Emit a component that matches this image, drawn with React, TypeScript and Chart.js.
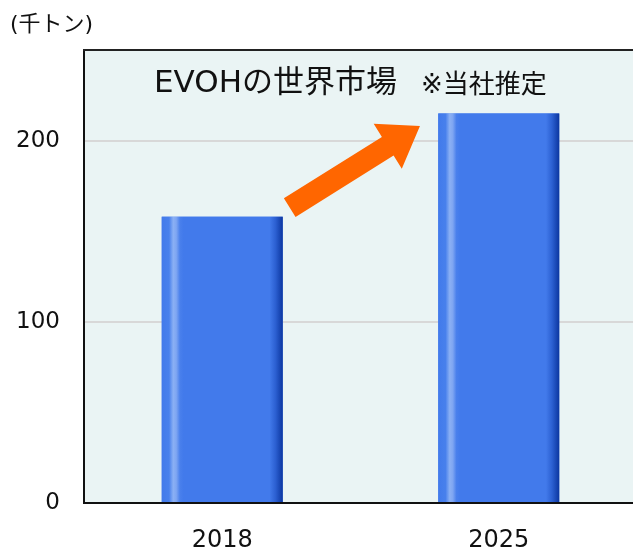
import React, { useEffect, useRef } from "react";
import { Chart, registerables } from "chart.js";

Chart.register(...registerables);

const categories = ["2018", "2025"];
const marketValues = [158, 215];
const yTicks = [0, 100, 200];
const yMax = 250;
const titleText = "EVOHの世界市場";
const noteText = "※当社推定";
const unitText = "(千トン)";
// arrow in data coordinates: [category index, value]
const arrowFrom = [0.244, 163];
const arrowTo = [0.715, 208];

const FONT = '"DejaVu Sans", "Noto Sans CJK JP", sans-serif';

const decorPlugin = {
  id: "decor",
  beforeDraw(chart: any) {
    const { ctx, chartArea: a } = chart;
    ctx.save();
    ctx.fillStyle = "#EAF4F4";
    ctx.fillRect(a.left, a.top, a.right - a.left, a.bottom - a.top);
    ctx.restore();
  },
  afterDatasetsDraw(chart: any) {
    const { ctx, chartArea: a } = chart;
    const meta = chart.getDatasetMeta(0);
    ctx.save();
    meta.data.forEach((el: any) => {
      const { x, y, base, width } = el.getProps(["x", "y", "base", "width"], true);
      const left = x - width / 2;
      const g = ctx.createLinearGradient(left, 0, left + width, 0);
      g.addColorStop(0, "#427AEB");
      g.addColorStop(0.06, "#4880EC");
      g.addColorStop(0.095, "#8BB0F4");
      g.addColorStop(0.12, "#7FA6F2");
      g.addColorStop(0.15, "#4A80EC");
      g.addColorStop(0.18, "#427AEB");
      g.addColorStop(0.89, "#427AEB");
      g.addColorStop(0.94, "#2C60D2");
      g.addColorStop(1, "#0C36A0");
      ctx.fillStyle = g;
      ctx.fillRect(left, y, width, base - y);
    });
    // top border
    ctx.strokeStyle = "#222";
    ctx.lineWidth = 2;
    ctx.beginPath();
    ctx.moveTo(a.left - 1, a.top);
    ctx.lineTo(a.right, a.top);
    ctx.stroke();

    // arrow
    const xs = chart.scales.x;
    const ys = chart.scales.y;
    const x0 = xs.getPixelForValue(arrowFrom[0]);
    const y0 = ys.getPixelForValue(arrowFrom[1]);
    const x1 = xs.getPixelForValue(arrowTo[0]);
    const y1 = ys.getPixelForValue(arrowTo[1]);
    const dx = x1 - x0;
    const dy = y1 - y0;
    const len = Math.hypot(dx, dy);
    const ux = dx / len;
    const uy = dy / len;
    const nx = -uy;
    const ny = ux;
    const shaftW = 11;
    const headW = 26.5;
    const headL = 38;
    const bx = x1 - ux * headL;
    const by = y1 - uy * headL;
    ctx.fillStyle = "#FF6600";
    ctx.beginPath();
    ctx.moveTo(x0 + nx * shaftW, y0 + ny * shaftW);
    ctx.lineTo(bx + nx * shaftW, by + ny * shaftW);
    ctx.lineTo(bx + nx * headW, by + ny * headW);
    ctx.lineTo(x1, y1);
    ctx.lineTo(bx - nx * headW, by - ny * headW);
    ctx.lineTo(bx - nx * shaftW, by - ny * shaftW);
    ctx.lineTo(x0 - nx * shaftW, y0 - ny * shaftW);
    ctx.closePath();
    ctx.fill();

    // texts
    ctx.fillStyle = "#111";
    ctx.textBaseline = "middle";
    ctx.textAlign = "left";
    ctx.font = `31px ${FONT}`;
    ctx.fillText(titleText, a.left + 70, a.top + 34);
    ctx.font = `26px ${FONT}`;
    ctx.fillText(noteText, a.left + 337, a.top + 36);
    ctx.font = `22px ${FONT}`;
    ctx.fillText(unitText, a.left - 74, a.top - 25);
    ctx.restore();
  },
};

export default function App() {
  const ref = useRef<HTMLCanvasElement>(null);
  useEffect(() => {
    if (!ref.current) return;
    const chart = new Chart(ref.current, {
      type: "bar",
      data: {
        labels: categories,
        datasets: [
          {
            data: marketValues,
            backgroundColor: "#427AEB",
            borderWidth: 0,
            categoryPercentage: 1,
            barPercentage: 0.4376,
          },
        ],
      },
      options: {
        responsive: false,
        animation: false,
        layout: { padding: { top: 42, right: 0, left: 0, bottom: 0 } },
        plugins: {
          legend: { display: false },
          tooltip: { enabled: false },
          title: { display: false },
        },
        scales: {
          x: {
            grid: { display: false, drawTicks: false },
            border: { display: true, color: "#111", width: 2 },
            ticks: {
              color: "#111",
              font: { family: FONT, size: 24 },
              padding: 23,
            },
            afterFit: (s: any) => {
              s.height = 50;
            },
          },
          y: {
            min: 0,
            max: yMax,
            grid: { color: "#D8D8D8", lineWidth: 2, drawTicks: false },
            border: { display: true, color: "#111", width: 2 },
            ticks: {
              stepSize: 100,
              color: "#111",
              font: { family: FONT, size: 23 },
              padding: 24,
            },
            afterBuildTicks: (s: any) => {
              s.ticks = yTicks.map((v) => ({ value: v }));
            },
            afterFit: (s: any) => {
              s.width = 76;
            },
          },
        },
      },
      plugins: [decorPlugin],
    });
    return () => chart.destroy();
  }, []);
  return (
    <div
      style={{
        position: "fixed",
        left: 8,
        top: 8,
        width: 625,
        height: 545,
        overflow: "hidden",
        background: "#fff",
      }}
    >
      <canvas ref={ref} width={629} height={545} style={{ display: "block" }} />
    </div>
  );
}
